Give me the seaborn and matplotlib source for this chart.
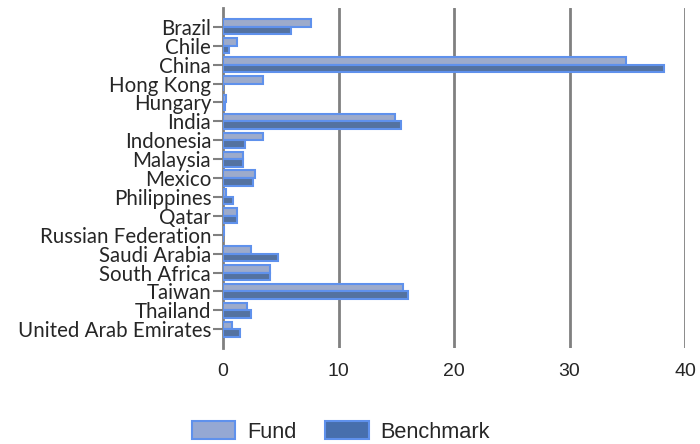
import matplotlib
matplotlib.use("Agg")
import matplotlib.pyplot as plt
import seaborn as sns
import pandas as pd
from matplotlib.patches import Patch

countries = ["Brazil", "Chile", "China", "Hong Kong", "Hungary", "India", "Indonesia",
             "Malaysia", "Mexico", "Philippines", "Qatar", "Russian Federation",
             "Saudi Arabia", "South Africa", "Taiwan", "Thailand", "United Arab Emirates"]
fund = [7.6, 1.2, 34.9, 3.5, 0.3, 14.9, 3.5, 1.7, 2.8, 0.3, 1.2, 0.1, 2.4, 4.1, 15.6, 2.1, 0.8]
benchmark = [5.9, 0.5, 38.2, 0.0, 0.15, 15.4, 1.9, 1.7, 2.6, 0.9, 1.2, 0.0, 4.8, 4.1, 16.0, 2.4, 1.5]
series = ["Fund", "Benchmark"]
xticks = [0, 10, 20, 30, 40]

df = pd.DataFrame({
    "Country": countries * 2,
    "Value": fund + benchmark,
    "Series": [series[0]] * len(countries) + [series[1]] * len(countries),
})

sns.set_style("white")
fill_colors = {"Fund": "#95A8D3", "Benchmark": "#476FAD"}
edge_color = "#5F91EC"

fig = plt.figure(figsize=(7, 4.44), dpi=100)
ax = fig.add_axes([0.3186, 0.216, 0.66, 0.766])

sns.barplot(data=df, y="Country", x="Value", hue="Series", order=countries,
            hue_order=series, palette=fill_colors, orient="h", width=0.8,
            edgecolor=edge_color, linewidth=1.5, ax=ax, legend=False, zorder=3)

ax.set_xlim(0, 40)
ax.set_ylim(len(countries) - 1 + 1.0, -1.0)
ax.set_xticks(xticks)
ax.set_xticklabels([str(t) for t in xticks], fontfamily="Liberation Sans", fontsize=14)
ax.set_yticks(range(len(countries)))
ax.set_yticklabels(countries, fontfamily="Lato", fontsize=14.8)
ax.set_xlabel("")
ax.set_ylabel("")

for v in xticks[1:]:
    ax.axvline(v, color="#808080", lw=2, zorder=1)

for s in ["top", "right", "bottom"]:
    ax.spines[s].set_visible(False)
ax.spines["left"].set_color("#808080")
ax.spines["left"].set_linewidth(2)
ax.tick_params(axis="y", length=7, width=1.5, color="#808080", pad=1.5, left=True)
ax.tick_params(axis="x", length=0, pad=11)

handles = [Patch(facecolor=fill_colors[s], edgecolor=edge_color, linewidth=1.5, label=s) for s in series]
fig.legend(handles=handles, loc="center", bbox_to_anchor=(0.487, 0.027), ncol=2,
           frameon=False, prop={"family": "Liberation Sans", "size": 15.7},
           handlelength=2.0, handleheight=0.85, columnspacing=1.3, handletextpad=0.55)

fig.savefig("out.png", dpi=100)
